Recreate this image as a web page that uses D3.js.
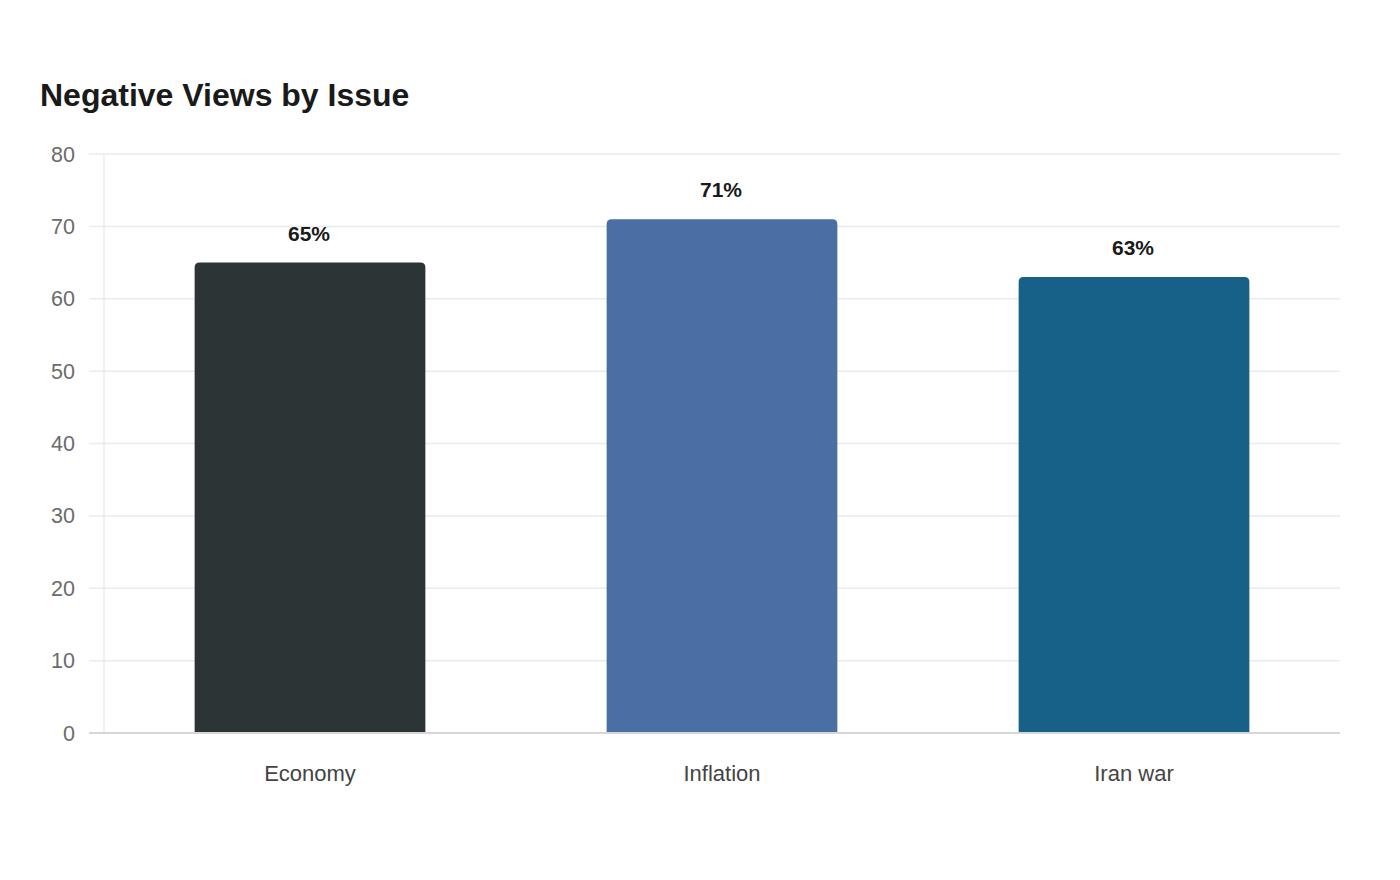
<!DOCTYPE html>
<html>
<head>
<meta charset="utf-8">
<script src="https://cdn.jsdelivr.net/npm/d3@7"></script>
<style>
  body { margin:0; background:#fff; font-family:"Liberation Sans", Arial, sans-serif; }
</style>
</head>
<body>
<div id="plot"></div>
<script>
// chart data
var categories = ['Economy', 'Inflation', 'Iran war'];
var values = [65, 71, 63];
var colors = ['#2d3436', '#4a6fa5', '#176087'];
var yTicks = [0, 10, 20, 30, 40, 50, 60, 70, 80];

var W = 1400, H = 880;
var margin = {t:154, r:60, b:147, l:104};
var width = W - margin.l - margin.r,
    height = H - margin.t - margin.b;

var svg = d3.select('#plot').append('svg')
    .attr('width', W)
    .attr('height', H);

svg.append('text')
    .attr('x', 40)
    .attr('y', 106)
    .attr('font-size', 32)
    .attr('font-weight', 'bold')
    .attr('fill', '#1a1a1a')
    .text('Negative Views by Issue');

var plot = svg.append('g')
    .attr('transform', 'translate(' + margin.l + ',' + margin.t + ')');

var x = d3.scaleBand().domain(categories).range([0, width]).padding(0);
var y = d3.scaleLinear().domain([0, 80]).range([height, 0]);

var barW = x.bandwidth() * 0.56;

// gridlines
plot.selectAll('.grid')
    .data(yTicks.filter(function(d){ return d > 0; }))
    .enter().append('line')
    .attr('x1', -15)
    .attr('x2', width)
    .attr('y1', function(d){ return y(d); })
    .attr('y2', function(d){ return y(d); })
    .attr('stroke', '#ebebeb')
    .attr('stroke-width', 1.5);

// vertical axis line
plot.append('line')
    .attr('x1', 0).attr('x2', 0)
    .attr('y1', 0).attr('y2', height)
    .attr('stroke', '#e3e3e3')
    .attr('stroke-width', 1);

// y tick labels
plot.selectAll('.ylab')
    .data(yTicks)
    .enter().append('text')
    .attr('x', -29)
    .attr('y', function(d){ return y(d); })
    .attr('dy', '0.35em')
    .attr('text-anchor', 'end')
    .attr('font-size', 21.5)
    .attr('fill', '#6b6b6b')
    .text(function(d){ return d; });

// bars with rounded tops
var r = 5;
plot.selectAll('.bar')
    .data(values)
    .enter().append('path')
    .attr('d', function(d, i){
        var x0 = x(categories[i]) + (x.bandwidth() - barW) / 2,
            x1 = x0 + barW,
            y0 = y(d),
            y1 = y(0);
        return 'M' + x0 + ',' + y1 +
            'V' + (y0 + r) +
            'Q' + x0 + ',' + y0 + ' ' + (x0 + r) + ',' + y0 +
            'H' + (x1 - r) +
            'Q' + x1 + ',' + y0 + ' ' + x1 + ',' + (y0 + r) +
            'V' + y1 + 'Z';
    })
    .attr('fill', function(d, i){ return colors[i]; });

// baseline
plot.append('line')
    .attr('x1', -15).attr('x2', width)
    .attr('y1', height).attr('y2', height)
    .attr('stroke', '#d6d6d6')
    .attr('stroke-width', 2);

// value labels
plot.selectAll('.val')
    .data(values)
    .enter().append('text')
    .attr('x', function(d, i){ return x(categories[i]) + x.bandwidth() / 2 - 1; })
    .attr('y', function(d){ return y(d) - 22; })
    .attr('text-anchor', 'middle')
    .attr('font-size', 21)
    .attr('font-weight', 'bold')
    .attr('fill', '#1a1a1a')
    .text(function(d){ return d + '%'; });

// x labels
plot.selectAll('.xlab')
    .data(categories)
    .enter().append('text')
    .attr('x', function(d){ return x(d) + x.bandwidth() / 2; })
    .attr('y', height + 48)
    .attr('text-anchor', 'middle')
    .attr('font-size', 22)
    .attr('fill', '#444')
    .text(function(d){ return d; });
</script>
</body>
</html>
